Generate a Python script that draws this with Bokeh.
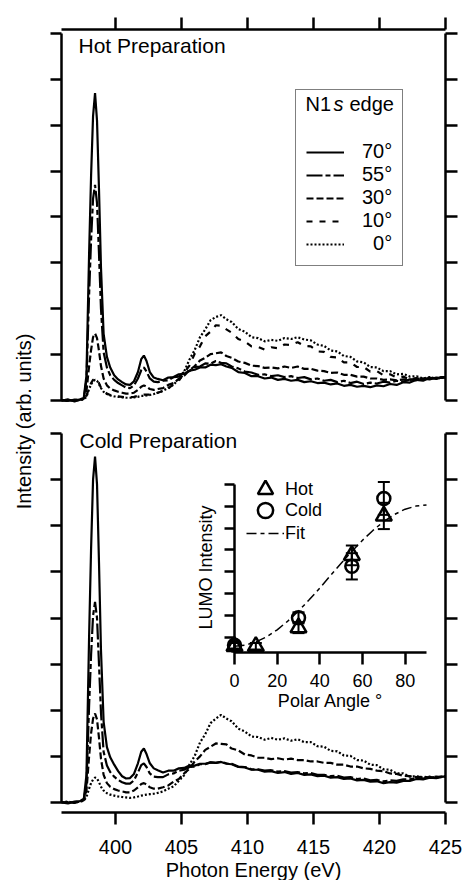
import math

from bokeh.embed import file_html
from bokeh.models import (ColumnDataSource, CustomJSTickFormatter, FixedTicker, Label,
                          Legend, LegendItem, LinearAxis, Range1d, TeeHead, Whisker)
from bokeh.plotting import figure
from bokeh.resources import INLINE

FONT = "Liberation Sans"

# ---- N1s NEXAFS spectra (photon energy in eV, intensity in arb. units) ----
energy = [395.9, 396.4, 396.9, 397.3, 397.6, 397.8, 398.0, 398.15, 398.3, 398.45,
          398.6, 398.75, 398.9, 399.1, 399.35, 399.6, 399.9, 400.2, 400.5, 400.8,
          401.1, 401.4, 401.7, 401.95, 402.15, 402.35, 402.6, 402.9, 403.2, 403.6,
          404.0, 404.4, 404.8, 405.2, 405.6, 406.0, 406.4, 406.8, 407.2, 407.6,
          408.0, 408.4, 408.8, 409.3, 409.8, 410.3, 410.8, 411.3, 411.8, 412.3,
          412.8, 413.3, 413.8, 414.3, 414.8, 415.3, 415.8, 416.3, 416.8, 417.3,
          417.8, 418.3, 418.8, 419.3, 419.8, 420.3, 420.8, 421.3, 421.8, 422.3,
          422.8, 423.3, 423.8, 424.3, 424.8, 425.0]

# Hot preparation, by polar angle
hot_70 = [0.00, 0.02, -0.01, 0.02, 0.06, 0.55, 3.20, 4.90, 6.20, 6.70,
          6.10, 4.60, 2.90, 1.45, 0.95, 0.72, 0.55, 0.46, 0.40, 0.35,
          0.34, 0.42, 0.62, 0.90, 0.98, 0.86, 0.62, 0.50, 0.47, 0.44,
          0.50, 0.51, 0.57, 0.58, 0.65, 0.67, 0.72, 0.72, 0.78, 0.77,
          0.79, 0.74, 0.71, 0.62, 0.60, 0.53, 0.53, 0.48, 0.50, 0.45,
          0.47, 0.43, 0.45, 0.40, 0.42, 0.38, 0.39, 0.35, 0.37, 0.32,
          0.34, 0.30, 0.32, 0.29, 0.33, 0.31, 0.36, 0.34, 0.40, 0.39,
          0.45, 0.43, 0.49, 0.47, 0.51, 0.50]
hot_55 = [0.01, -0.01, 0.02, 0.01, 0.05, 0.45, 2.30, 3.50, 4.40, 4.70,
          4.30, 3.20, 2.00, 1.05, 0.72, 0.55, 0.45, 0.38, 0.33, 0.28,
          0.27, 0.33, 0.48, 0.66, 0.72, 0.63, 0.48, 0.41, 0.40, 0.43,
          0.44, 0.51, 0.52, 0.62, 0.64, 0.73, 0.74, 0.81, 0.80, 0.86,
          0.82, 0.81, 0.74, 0.70, 0.63, 0.61, 0.56, 0.57, 0.53, 0.55,
          0.51, 0.53, 0.49, 0.51, 0.46, 0.48, 0.43, 0.45, 0.40, 0.43,
          0.38, 0.41, 0.36, 0.39, 0.37, 0.41, 0.39, 0.43, 0.41, 0.46,
          0.44, 0.48, 0.46, 0.50, 0.49, 0.50]
hot_30 = [0.00, 0.02, -0.02, 0.02, 0.04, 0.20, 0.75, 1.10, 1.38, 1.46,
          1.36, 1.08, 0.75, 0.48, 0.33, 0.26, 0.22, 0.19, 0.17, 0.15,
          0.15, 0.17, 0.23, 0.30, 0.33, 0.30, 0.25, 0.23, 0.25, 0.27,
          0.34, 0.38, 0.47, 0.54, 0.66, 0.75, 0.87, 0.93, 1.01, 1.03,
          1.05, 0.97, 0.93, 0.85, 0.82, 0.76, 0.75, 0.71, 0.72, 0.70,
          0.74, 0.71, 0.74, 0.69, 0.69, 0.65, 0.64, 0.60, 0.61, 0.56,
          0.56, 0.52, 0.52, 0.48, 0.48, 0.45, 0.46, 0.44, 0.46, 0.45,
          0.48, 0.47, 0.49, 0.48, 0.51, 0.50]
hot_10 = [0.01, -0.01, 0.01, 0.02, 0.03, 0.10, 0.28, 0.38, 0.45, 0.48,
          0.46, 0.38, 0.28, 0.20, 0.15, 0.12, 0.10, 0.09, 0.08, 0.07,
          0.07, 0.08, 0.10, 0.12, 0.13, 0.13, 0.13, 0.14, 0.17, 0.21,
          0.26, 0.36, 0.43, 0.60, 0.76, 1.02, 1.18, 1.40, 1.50, 1.64,
          1.63, 1.55, 1.48, 1.34, 1.29, 1.18, 1.17, 1.11, 1.16, 1.14,
          1.22, 1.21, 1.27, 1.19, 1.18, 1.07, 1.06, 0.95, 0.94, 0.83,
          0.83, 0.73, 0.73, 0.63, 0.64, 0.55, 0.57, 0.50, 0.52, 0.46,
          0.49, 0.45, 0.50, 0.47, 0.51, 0.50]
hot_0 = [0.00, 0.01, -0.01, 0.01, 0.02, 0.08, 0.25, 0.35, 0.42, 0.45,
         0.43, 0.36, 0.27, 0.19, 0.14, 0.11, 0.09, 0.08, 0.07, 0.06,
         0.06, 0.07, 0.08, 0.10, 0.10, 0.11, 0.12, 0.14, 0.17, 0.21,
         0.28, 0.34, 0.48, 0.63, 0.89, 1.10, 1.38, 1.55, 1.75, 1.82,
         1.86, 1.77, 1.71, 1.56, 1.50, 1.38, 1.36, 1.29, 1.32, 1.30,
         1.36, 1.34, 1.38, 1.33, 1.31, 1.22, 1.19, 1.09, 1.07, 0.97,
         0.95, 0.85, 0.83, 0.73, 0.72, 0.64, 0.64, 0.57, 0.58, 0.52,
         0.53, 0.48, 0.51, 0.48, 0.51, 0.50]

# Cold preparation, by polar angle
cold_70 = [0.00, -0.02, 0.02, 0.03, 0.08, 0.60, 3.60, 5.50, 7.00, 7.50,
           6.90, 5.20, 3.30, 1.75, 1.20, 0.98, 0.82, 0.68, 0.57, 0.52,
           0.53, 0.62, 0.85, 1.10, 1.17, 1.05, 0.85, 0.74, 0.70, 0.65,
           0.69, 0.69, 0.74, 0.75, 0.80, 0.80, 0.84, 0.84, 0.87, 0.86,
           0.88, 0.84, 0.83, 0.77, 0.76, 0.71, 0.71, 0.67, 0.68, 0.64,
           0.66, 0.62, 0.64, 0.60, 0.61, 0.57, 0.58, 0.54, 0.55, 0.51,
           0.52, 0.48, 0.49, 0.45, 0.46, 0.42, 0.44, 0.43, 0.47, 0.47,
           0.51, 0.50, 0.54, 0.53, 0.56, 0.56]
cold_55 = [0.01, 0.00, 0.01, 0.02, 0.06, 0.40, 2.10, 3.20, 4.05, 4.35,
           4.00, 3.00, 1.95, 1.10, 0.80, 0.66, 0.56, 0.49, 0.44, 0.41,
           0.41, 0.48, 0.65, 0.81, 0.85, 0.77, 0.63, 0.56, 0.55, 0.55,
           0.61, 0.63, 0.69, 0.71, 0.77, 0.78, 0.83, 0.83, 0.87, 0.86,
           0.88, 0.85, 0.84, 0.78, 0.77, 0.72, 0.72, 0.69, 0.70, 0.67,
           0.68, 0.65, 0.66, 0.63, 0.64, 0.60, 0.60, 0.57, 0.58, 0.54,
           0.55, 0.51, 0.52, 0.48, 0.49, 0.46, 0.48, 0.47, 0.50, 0.50,
           0.53, 0.52, 0.55, 0.54, 0.57, 0.56]
cold_30 = [0.00, 0.01, -0.01, 0.02, 0.05, 0.25, 1.00, 1.50, 1.82, 1.93,
           1.80, 1.40, 0.95, 0.60, 0.42, 0.34, 0.29, 0.26, 0.24, 0.22,
           0.22, 0.26, 0.33, 0.40, 0.42, 0.39, 0.33, 0.30, 0.30, 0.33,
           0.37, 0.45, 0.51, 0.63, 0.73, 0.89, 1.00, 1.14, 1.21, 1.28,
           1.27, 1.26, 1.17, 1.13, 1.04, 1.02, 0.97, 0.97, 0.94, 0.96,
           0.93, 0.95, 0.92, 0.92, 0.89, 0.89, 0.86, 0.86, 0.82, 0.82,
           0.78, 0.78, 0.74, 0.73, 0.69, 0.68, 0.63, 0.62, 0.58, 0.57,
           0.55, 0.56, 0.54, 0.56, 0.55, 0.56]
cold_0 = [0.00, 0.02, -0.01, 0.02, 0.04, 0.12, 0.30, 0.42, 0.50, 0.54,
          0.52, 0.44, 0.34, 0.26, 0.20, 0.17, 0.15, 0.13, 0.12, 0.11,
          0.10, 0.11, 0.13, 0.15, 0.16, 0.17, 0.18, 0.19, 0.21, 0.24,
          0.30, 0.35, 0.47, 0.59, 0.82, 1.01, 1.30, 1.48, 1.72, 1.82,
          1.90, 1.82, 1.76, 1.60, 1.54, 1.43, 1.42, 1.36, 1.40, 1.36,
          1.39, 1.34, 1.37, 1.31, 1.31, 1.22, 1.21, 1.12, 1.11, 1.02,
          1.01, 0.92, 0.91, 0.82, 0.81, 0.72, 0.71, 0.63, 0.63, 0.56,
          0.57, 0.54, 0.56, 0.54, 0.57, 0.56]

# ---- LUMO (pi*) intensity versus polar angle ----
hot_angle = [0, 10, 30, 55, 70]
hot_lumo = [-0.40, -0.40, 0.45, 3.75, 5.55]
hot_err = [0.15, 0.15, 0.25, 0.45, 0.60]
cold_angle = [0, 30, 55, 70]
cold_lumo = [-0.35, 0.90, 3.25, 6.35]
cold_err = [0.15, 0.25, 0.60, 0.75]
fit_angle = [0, 5, 10, 15, 20, 25, 30, 35, 40, 45, 50, 55, 60, 65, 70, 75, 80, 85, 90]
fit_lumo = [-0.40, -0.35, -0.20, 0.03, 0.35, 0.75, 1.21, 1.72, 2.26, 2.83,
            3.39, 3.93, 4.44, 4.90, 5.30, 5.62, 5.86, 6.00, 6.05]

energy_ticks = [400, 405, 410, 415, 420, 425]
panel_ticks = [0, 1, 2, 3, 4, 5, 6, 7, 8]
angle_ticks = [0, 20, 40, 60, 80]
lumo_ticks = [0, 1, 2, 3, 4, 5, 6, 7]

hot_series = [("70°", hot_70), ("55°", hot_55), ("30°", hot_30), ("10°", hot_10), ("\u20070°", hot_0)]
cold_series = [("70°", cold_70), ("55°", cold_55), ("30°", cold_30), ("\u20070°", cold_0)]
dash = {"70°": "solid", "55°": "16 3 5 3", "30°": "7 3", "10°": "6 7", "\u20070°": "2 2"}

# The frame fills the whole canvas; every axis sits at a fixed data location.
# Default y range holds the cold panel, "top" the hot panel, "angle"/"lumo" the inset.
E_LO, E_HI = 395.909, 425.0
COLD_BASE = -0.2168      # bottom energy axis
HOT_TOP = 8.087          # top energy axis
LUMO_BASE = -0.685       # inset angle axis

p = figure(width=464, height=880, title=None,
           x_range=Range1d(391.288, 426.439), y_range=Range1d(-1.691, 17.388),
           x_axis_location=None, y_axis_location=None,
           toolbar_location=None, output_backend="svg",
           min_border_left=0, min_border_right=0, min_border_top=0, min_border_bottom=0)
p.extra_y_ranges = {"top": Range1d(-10.463, 8.719), "lumo": Range1d(-11.096, 29.087)}
p.extra_x_ranges = {"angle": Range1d(-109.69, 107.81)}
p.outline_line_color = None
p.grid.visible = False
p.background_fill_color = "white"
p.border_fill_color = "white"


def make_axis(ticks, bounds, fixed, tick_out=12, labels=False, font_size="20px", **kw):
    ax = LinearAxis(ticker=FixedTicker(ticks=ticks), bounds=bounds, fixed_location=fixed, **kw)
    ax.axis_line_width = 2.5
    ax.axis_line_color = "black"
    ax.major_tick_line_width = 2.5
    ax.major_tick_line_color = "black"
    ax.major_tick_out = tick_out
    ax.major_tick_in = 0
    ax.minor_tick_line_color = None
    ax.major_label_text_font = FONT
    ax.major_label_text_font_size = font_size
    ax.major_label_text_color = "black"
    if not labels:
        ax.formatter = CustomJSTickFormatter(code="return ''")
    return ax


def text_label(x, y, text, size="20px", style="normal", **kw):
    # y is the vertical centre of the capitals, measured up from the canvas bottom
    return Label(x=x, y=y, x_units="screen", y_units="screen", text=text,
                 text_font=FONT, text_font_size=size, text_font_style=style,
                 text_color="black", text_baseline="middle", **kw)


# ---- energy axes ----
ax = make_axis(energy_ticks, (E_LO, E_HI), COLD_BASE, labels=True)
ax.major_label_standoff = 15
p.add_layout(ax, "below")
p.add_layout(make_axis(energy_ticks, (E_LO, E_HI), HOT_TOP, y_range_name="top"), "above")
p.add_layout(text_label(253, 11, "Photon Energy (eV)", text_align="center"))
p.add_layout(text_label(23, 459, "Intensity (arb. units)", text_align="center",
                        angle=math.pi / 2))

# ---- cold panel (default y range) ----
p.add_layout(make_axis(panel_ticks, (0, 8), E_LO, tick_out=11), "left")
p.add_layout(make_axis(panel_ticks, (0, 8), E_HI), "right")
for name, ys in cold_series:
    p.line(energy, ys, line_color="black", line_width=2.2, line_dash=dash[name])
p.add_layout(text_label(79, 440, "Cold Preparation", "21px"))

# ---- hot panel ("top" y range) ----
p.add_layout(make_axis(panel_ticks, (0, 8), E_LO, tick_out=11, y_range_name="top"), "left")
p.add_layout(make_axis(panel_ticks, (0, 8), E_HI, y_range_name="top"), "right")
items = []
for name, ys in hot_series:
    r = p.line(energy, ys, line_color="black", line_width=2.2, line_dash=dash[name],
               y_range_name="top")
    items.append(LegendItem(label=name, renderers=[r]))
p.add_layout(text_label(78, 835, "Hot Preparation", "21px"))

legend = Legend(items=items, location=(295, 614), margin=0, padding=10, spacing=0,
                glyph_width=38, glyph_height=20, label_height=20, label_standoff=18,
                label_text_font=FONT, label_text_font_size="20px", label_text_color="black",
                title=" ", title_text_font_size="20px", title_standoff=17,
                border_line_color="black", border_line_width=1, background_fill_alpha=0)
p.add_layout(legend)
p.add_layout(text_label(305, 777, "N1"))
p.add_layout(text_label(333, 777, "s", style="italic"))
p.add_layout(text_label(349, 777, "edge"))

# ---- inset: LUMO intensity vs polar angle ("angle" / "lumo" ranges) ----
inset = dict(x_range_name="angle", y_range_name="lumo")
fit_r = p.line(fit_angle, fit_lumo, line_color="black", line_width=1.5, line_dash="10 4 4 4", **inset)

for angles, lumo, err in ((hot_angle, hot_lumo, hot_err), (cold_angle, cold_lumo, cold_err)):
    src = ColumnDataSource(dict(x=angles,
                                upper=[v + e for v, e in zip(lumo, err)],
                                lower=[v - e for v, e in zip(lumo, err)]))
    p.add_layout(Whisker(source=src, base="x", upper="upper", lower="lower",
                         dimension="height", line_width=2, line_color="black",
                         upper_head=TeeHead(size=12, line_width=2, line_color="black"),
                         lower_head=TeeHead(size=12, line_width=2, line_color="black"),
                         **inset))

hot_r = p.scatter(hot_angle, hot_lumo, marker="triangle", size=16, fill_color=None,
                  line_color="black", line_width=2.5, **inset)
cold_r = p.scatter(cold_angle, cold_lumo, marker="circle", size=13, fill_color=None,
                   line_color="black", line_width=2.5, **inset)

ax = make_axis(angle_ticks, (0, 90), LUMO_BASE, labels=True, font_size="18px", **inset)
ax.major_label_standoff = 9
p.add_layout(ax, "below")
p.add_layout(make_axis(lumo_ticks, (LUMO_BASE, 7), 0, tick_out=10, **inset), "left")
p.add_layout(text_label(330, 180, "Polar Angle °", "18px", text_align="center"))
p.add_layout(text_label(205, 313, "LUMO Intensity", "18px", text_align="center",
                        angle=math.pi / 2))

# one single-row legend per inset entry so the rows can sit closer than the marker box
for (label, rend), bottom in zip((("Hot", hot_r), ("Cold", cold_r), ("Fit", fit_r)), (372, 351, 328)):
    p.add_layout(Legend(items=[LegendItem(label=label, renderers=[rend])],
                        location=(246, bottom), margin=0, padding=0,
                        glyph_width=38, glyph_height=38, label_height=20, label_standoff=1,
                        label_text_font=FONT, label_text_font_size="18px",
                        label_text_color="black", border_line_color=None,
                        background_fill_alpha=0))

with open("out.html", "w") as f:
    f.write(file_html(p, INLINE))
